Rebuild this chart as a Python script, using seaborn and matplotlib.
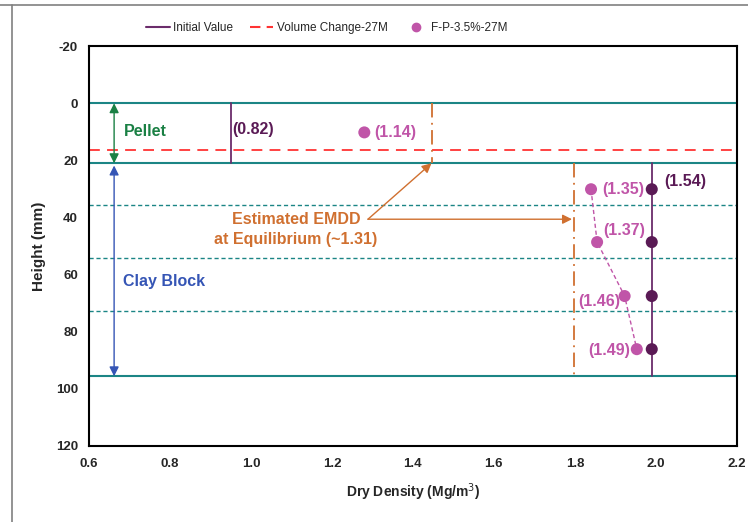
import matplotlib
matplotlib.use("Agg")
import matplotlib.pyplot as plt
from matplotlib.lines import Line2D
import seaborn as sns
import pandas as pd

# layer boundaries (mm)
pellet_top = 0
pellet_bottom = 21
volume_change = 16.5
slice_lines = [35.7, 54.3, 72.8]
clay_bottom = 95.6

# initial values
init_pellet_x = 0.95
init_clay_x = 1.99
init_clay_h = [30.1, 48.6, 67.5, 86.1]
init_labels = ["(0.82)", "(1.54)"]

# F-P-3.5%-27M measured
fp_pellet = (1.28, 10.2)
fp_clay_x = [1.84, 1.855, 1.923, 1.953]
fp_clay_h = [30.1, 48.6, 67.5, 86.1]
fp_labels = ["(1.14)", "(1.35)", "(1.37)", "(1.46)", "(1.49)"]

# estimated EMDD lines
emdd_pellet_x = 1.446
emdd_clay_x = 1.797

teal = "#1b8585"
red = "#ff3333"
purple = "#6b2c6b"
dark = "#5a1a55"
pink = "#c055a8"
orange = "#d07030"
green = "#1a8044"
blue = "#3555b5"

sns.set_style("white")
plt.rcParams["font.family"] = ["Liberation Sans", "DejaVu Sans"]

fig = plt.figure(figsize=(7.48, 5.22), dpi=100)
ax = fig.add_axes([0.119, 0.1456, 0.866, 0.766])

# horizontal layer lines
for h in [pellet_top, pellet_bottom, clay_bottom]:
    ax.axhline(h, color=teal, lw=1.5, zorder=1)
for h in slice_lines:
    ax.axhline(h, color=teal, lw=1.0, ls=(0, (3, 2)), zorder=1)
ax.axhline(volume_change, color=red, lw=1.3, ls=(0, (6, 4)), zorder=1)

# initial value lines
ax.plot([init_pellet_x, init_pellet_x], [pellet_top, pellet_bottom], color=purple, lw=1.3)
ax.plot([init_clay_x, init_clay_x], [pellet_bottom, clay_bottom], color=purple, lw=1.3)
sns.scatterplot(x=[init_clay_x] * 4, y=init_clay_h, color=dark, s=75, edgecolor="none", ax=ax, zorder=4)

# EMDD lines
ax.plot([emdd_pellet_x, emdd_pellet_x], [pellet_top, pellet_bottom], color=orange, lw=1.3, ls=(0, (8, 3, 1, 3)))
ax.plot([emdd_clay_x, emdd_clay_x], [pellet_bottom, clay_bottom], color=orange, lw=1.3, ls=(0, (8, 3, 1, 3)))

# F-P points
fp = pd.DataFrame({"x": fp_clay_x, "h": fp_clay_h})
sns.lineplot(data=fp, x="x", y="h", sort=False, color=pink, lw=1.0, ls=(0, (3, 2)), ax=ax, zorder=3)
sns.scatterplot(data=fp, x="x", y="h", color=pink, s=75, edgecolor="none", ax=ax, zorder=4)
sns.scatterplot(x=[fp_pellet[0]], y=[fp_pellet[1]], color=pink, s=75, edgecolor="none", ax=ax, zorder=4)

# value labels
tk = dict(fontsize=11.5, fontweight="bold", va="center")
ax.text(0.955, 9.3, init_labels[0], color=dark, ha="left", **tk)
ax.text(2.02, 27.3, init_labels[1], color=dark, ha="left", **tk)
ax.text(1.305, 10.2, fp_labels[0], color=pink, ha="left", **tk)
ax.text(1.867, 30.1, fp_labels[1], color=pink, ha="left", **tk)
ax.text(1.871, 44.6, fp_labels[2], color=pink, ha="left", **tk)
ax.text(1.911, 69.3, fp_labels[3], color=pink, ha="right", **tk)
ax.text(1.937, 86.4, fp_labels[4], color=pink, ha="right", **tk)

# layer arrows
ax.annotate("", xy=(0.662, pellet_top), xytext=(0.662, pellet_bottom),
            arrowprops=dict(arrowstyle="<|-|>", color=green, lw=1.0, mutation_scale=14,
                            shrinkA=0, shrinkB=0))
ax.annotate("", xy=(0.662, pellet_bottom + 0.8), xytext=(0.662, clay_bottom),
            arrowprops=dict(arrowstyle="<|-|>", color=blue, lw=1.0, mutation_scale=14,
                            shrinkA=0, shrinkB=0))
ax.text(0.685, 10, "Pellet", color=green, fontsize=11.5, fontweight="bold", va="center")
ax.text(0.683, 62.3, "Clay Block", color=blue, fontsize=11.5, fontweight="bold", va="center")

# EMDD annotation
ax.text(1.111, 44.3, "Estimated EMDD\nat Equilibrium (~1.31)", color=orange, fontsize=11.5,
        fontweight="bold", ha="center", va="center", linespacing=1.45)
ax.annotate("", xy=(emdd_pellet_x, pellet_bottom), xytext=(1.289, 40.6),
            arrowprops=dict(arrowstyle="-|>", color=orange, lw=1.0, mutation_scale=14, shrinkA=0, shrinkB=0))
ax.annotate("", xy=(1.793, 40.6), xytext=(1.289, 40.6),
            arrowprops=dict(arrowstyle="-|>", color=orange, lw=1.0, mutation_scale=14, shrinkA=0, shrinkB=0))

ax.set_xlim(0.6, 2.2)
ax.set_ylim(120, -20)
ax.set_xticks([0.6, 0.8, 1.0, 1.2, 1.4, 1.6, 1.8, 2.0, 2.2])
ax.set_yticks(range(-20, 121, 20))
ax.set_xticklabels([f"{v:.1f}" for v in ax.get_xticks()], fontsize=9.5, fontweight="bold")
ax.set_yticklabels([str(int(v)) for v in ax.get_yticks()], fontsize=9.5, fontweight="bold")
ax.tick_params(axis="x", direction="in", length=4, width=1, pad=9)
ax.tick_params(axis="y", direction="out", length=4, width=1, pad=4)
for s in ax.spines.values():
    s.set_color("black")
    s.set_linewidth(1.5)
ax.set_xlabel("Dry Density (Mg/m$^3$)", fontsize=10, fontweight="bold", labelpad=8)
ax.set_ylabel("Height (mm)", fontsize=11, fontweight="bold", labelpad=7)

handles = [Line2D([], [], color=purple, lw=1.5),
           Line2D([], [], color=red, lw=1.5, ls=(0, (5, 3))),
           Line2D([], [], color=pink, marker="o", ls="none", markersize=6)]
fig.legend(handles, ["Initial Value", "Volume Change-27M", "F-P-3.5%-27M"],
           loc="center", bbox_to_anchor=(0.437, 0.946), ncol=3, frameon=False,
           fontsize=8.5, handlelength=2.0, handletextpad=0.3, columnspacing=1.4)

# outer frame lines
fig.add_artist(Line2D([0, 1], [0.991, 0.991], color="#808080", lw=1.2, transform=fig.transFigure))
fig.add_artist(Line2D([0.0165, 0.0165], [0, 0.991], color="#808080", lw=1.2, transform=fig.transFigure))

fig.savefig("out.png", dpi=100)
